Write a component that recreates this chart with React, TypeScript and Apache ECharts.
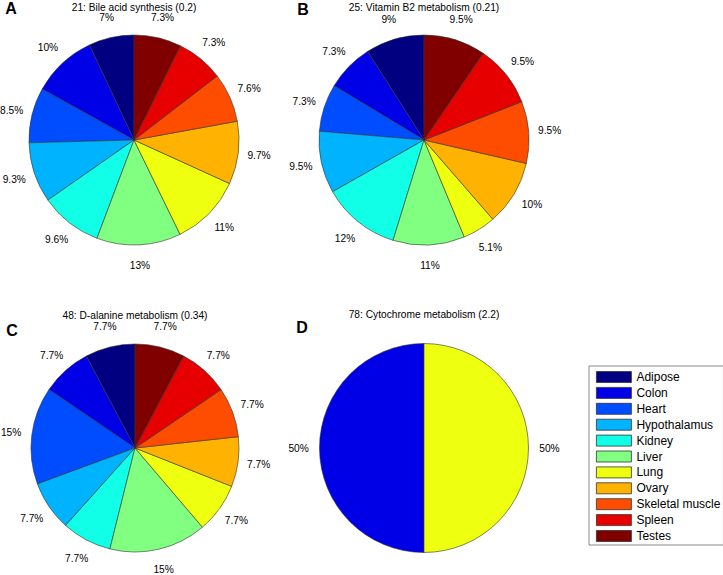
import React, { useEffect, useRef } from "react";
import * as echarts from "echarts";

const tissues = [
  "Adipose",
  "Colon",
  "Heart",
  "Hypothalamus",
  "Kidney",
  "Liver",
  "Lung",
  "Ovary",
  "Skeletal muscle",
  "Spleen",
  "Testes",
];
const valuesA = [7, 10, 8.5, 9.3, 9.6, 13, 11, 9.7, 7.6, 7.3, 7.3];
const valuesB = [9, 7.3, 7.3, 9.5, 12, 11, 5.1, 10, 9.5, 9.5, 9.5];
const valuesC = [7.7, 7.7, 15, 7.7, 7.7, 15, 7.7, 7.7, 7.7, 7.7, 7.7];
const valuesD = [0, 50, 0, 0, 0, 0, 50, 0, 0, 0, 0];
const panelValues = [valuesA, valuesB, valuesC, valuesD];
const titles = [
  "21: Bile acid synthesis (0.2)",
  "25: Vitamin B2 metabolism (0.21)",
  "48: D-alanine metabolism (0.34)",
  "78: Cytochrome metabolism (2.2)",
];
const panelLetters = ["A", "B", "C", "D"];

// jet-like colours
const colors = [
  "#000080",
  "#0000E6",
  "#004DFF",
  "#00B3FF",
  "#10FFE6",
  "#80FF80",
  "#EEFF10",
  "#FFB300",
  "#FF4D00",
  "#E60000",
  "#800000",
];

// layout (positions only)
const centers = [
  [134, 140],
  [424, 140],
  [135, 448],
  [424, 448],
];
const radii = [105, 105, 104, 104.5];
const titlePos = [
  [134, 7],
  [424, 7],
  [135, 315],
  [424, 314],
];
const letterPos = [
  [11, 8],
  [303, 9],
  [12, 330],
  [302, 327],
];

const FONT = "'Liberation Sans', Arial, sans-serif";

export default function App() {
  const ref = useRef<HTMLDivElement>(null);

  useEffect(() => {
    document.body.style.margin = "0";
    if (!ref.current) return;
    const chart = echarts.init(ref.current, undefined, { renderer: "svg" });

    const series: any[] = [];
    const labelSeries: any[] = [];
    panelValues.forEach((vals, i) => {
      const data = tissues
        .map((name, k) => ({
          name,
          value: vals[k],
          itemStyle: { color: colors[k] },
        }))
        .filter((d) => d.value > 0);
      const r = radii[i];
      series.push({
        type: "pie",
        center: centers[i],
        radius: r,
        startAngle: 90,
        clockwise: false,
        silent: true,
        avoidLabelOverlap: false,
        label: { show: false },
        labelLine: { show: false },
        emphasis: { disabled: true },
        itemStyle: { borderColor: "#333", borderWidth: 0.6 },
        data,
      });
      const mid = 1.2 * r - 3;
      labelSeries.push({
        type: "pie",
        center: centers[i],
        radius: [mid - 8, mid + 8],
        startAngle: 90,
        clockwise: false,
        silent: true,
        avoidLabelOverlap: false,
        emphasis: { disabled: true },
        itemStyle: { color: "rgba(0,0,0,0)", borderWidth: 0 },
        label: {
          show: true,
          position: "inside",
          rotate: 0,
          color: "#000",
          fontSize: 10.2,
          fontFamily: FONT,
          formatter: (p: any) => `${p.value}%`,
        },
        labelLine: { show: false },
        data: data.map((d) => ({ name: d.name, value: d.value })),
      });
    });

    const graphics: any[] = [];
    titles.forEach((t, i) => {
      graphics.push({
        type: "text",
        x: titlePos[i][0],
        y: titlePos[i][1],
        silent: true,
        style: {
          text: t,
          textAlign: "center",
          textVerticalAlign: "middle",
          fontSize: 10.2,
          fontFamily: FONT,
          fill: "#000",
        },
      });
    });
    panelLetters.forEach((t, i) => {
      graphics.push({
        type: "text",
        x: letterPos[i][0],
        y: letterPos[i][1],
        silent: true,
        style: {
          text: t,
          textAlign: "center",
          textVerticalAlign: "middle",
          fontSize: 16,
          fontWeight: "bold",
          fontFamily: FONT,
          fill: "#000",
        },
      });
    });

    chart.setOption({
      animation: false,
      backgroundColor: "#fff",
      legend: {
        orient: "vertical",
        left: 589,
        top: 366,
        padding: [5, 3, 3, 7],
        itemWidth: 35,
        itemHeight: 11,
        itemGap: 3.9,
        icon: "rect",
        borderColor: "#888",
        borderWidth: 1,
        backgroundColor: "#fff",
        selectedMode: false,
        data: tissues,
        itemStyle: { borderColor: "#333", borderWidth: 0.8 },
        textStyle: {
          fontSize: 12,
          color: "#000",
          fontFamily: FONT,
          lineHeight: 11,
        },
      },
      graphic: graphics,
      series: [...series, ...labelSeries],
    });

    return () => {
      chart.dispose();
    };
  }, []);

  return <div ref={ref} style={{ width: 723, height: 575 }} />;
}
